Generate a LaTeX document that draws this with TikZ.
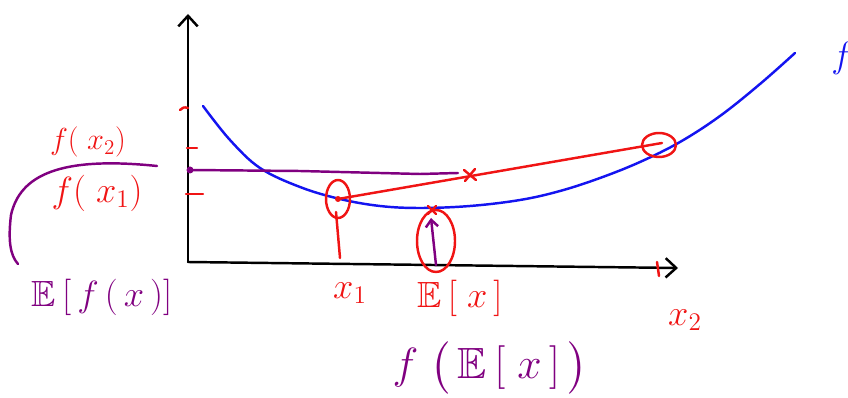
\documentclass[tikz,border=0pt]{standalone}
\usetikzlibrary{arrows.meta,calc}
\usepackage{amsmath,amssymb}

\definecolor{penred}{RGB}{240,20,20}
\definecolor{penblue}{RGB}{20,20,240}
\definecolor{penpurple}{RGB}{128,0,128}

\begin{document}
\begin{tikzpicture}[x=0.02cm,y=-0.02cm,>={Straight Barb[length=6pt,width=11pt]},
    line width=1.4pt,line cap=round,line join=round,font=\huge,
    redink/.style={color=penred},
    purpleink/.style={color=penpurple},
    lbl/.style={inner sep=0pt}]
  \useasboundingbox (0,0) rectangle (848,398);
  % --- coordinate axes ---
  \coordinate (O)  at (188,262);
  \coordinate (Yt) at (188,14);
  \coordinate (Xt) at (678,268);
  \draw[->] (O) -- (Yt);
  \draw[->] (O) -- (Xt);
  % --- the convex function f ---
  \draw[color=penblue] plot[smooth,tension=0.6] coordinates {(203,106) (230,140) (260,168) (300,187)
      (340,199) (380,206) (420,208) (470,206) (520,200) (560,191) (600,178) (640,162)
      (680,142) (720,116) (760,84) (795,53)};
  \node[lbl,color=penblue] (f) at (842,58) {$f$};
  % --- points x_1, x_2 on the curve and the chord between them ---
  \coordinate (P1) at (338,199);
  \coordinate (P2) at (662,143);
  \coordinate (B1) at (340,258);
  \draw[redink] (P1) -- (P2);
  \draw[redink] (P1) ellipse (12 and 19);
  \draw[redink] (659,145) ellipse (17 and 12);
  \fill[redink] (P1) circle (3);
  \draw[redink] (336,212) -- (B1);
  \draw[redink] (464,170) -- (476,180) (465,181) -- (475,169);   % mid-point of the chord
  % --- E[f(x)] level and E[x] ---
  \coordinate (Fm) at (190,170);
  \coordinate (Fe) at (458,173);
  \fill[purpleink] (Fm) circle (3.5);
  \draw[purpleink] (Fm) -- (300,171) -- (420,174) -- (Fe);
  \coordinate (Ex) at (436,265);
  \coordinate (Ef) at (431,218);
  \draw[redink] (436,241) ellipse (19 and 31);
  \draw[purpleink,->,>={Straight Barb[length=4pt,width=7pt]}] (Ex) -- (Ef);
  \draw[redink] (428,206) -- (436,214) (428,214) -- (436,206);
  % --- ticks ---
  \draw[redink] (180,110) .. controls (184,107) .. (188,108);
  \draw[redink] (187,148) -- (197,148);
  \draw[redink] (186,194) -- (203,194);
  \draw[redink] (657,262) -- (659,276);
  % --- bracket grouping the y-values ---
  \draw[purpleink] (157,166) .. controls (60,156) and (20,175) .. (11,215)
      .. controls (8,240) and (10,255) .. (18,264);
  % --- labels ---
  \node[lbl,redink,font=\LARGE] (fx2) at (88,142) {$f(\;x_{2})$};
  \node[lbl,redink] (fx1) at (97,193) {$f(\;x_{1})$};
  \node[lbl,purpleink] (Efx) at (102,297) {$\mathbb{E}\,[\,f\,(\,x\,)]$};
  \node[lbl,redink] (x1) at (350,293) {$x_{1}$};
  \node[lbl,redink] (Exl) at (460,298) {$\mathbb{E}\,[\;x\,]$};
  \node[lbl,redink] (x2) at (685,320) {$x_{2}$};
  \node[lbl,purpleink,font=\Huge] (fEx) at (490,368) {$f\;\bigl(\,\mathbb{E}\,[\;x\,]\,\bigr)$};
\end{tikzpicture}
\end{document}
